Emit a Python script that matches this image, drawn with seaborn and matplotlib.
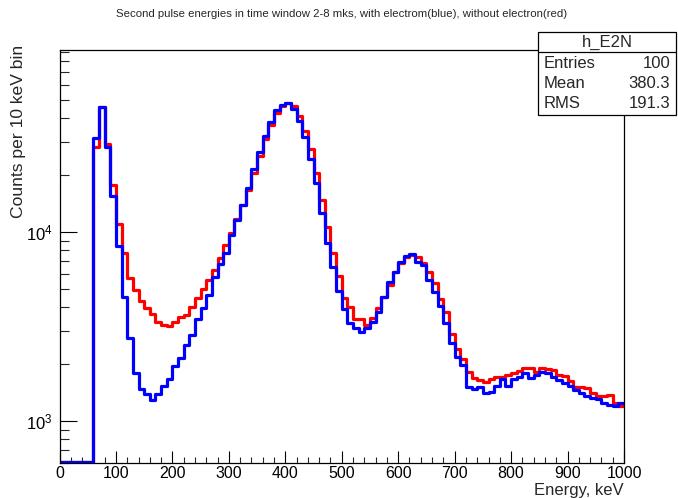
import numpy as np
import pandas as pd
import matplotlib
matplotlib.use("Agg")
import matplotlib.pyplot as plt
import seaborn as sns
from matplotlib.ticker import LogLocator, MultipleLocator, NullFormatter, LogFormatterSciNotation
from matplotlib.patches import Rectangle
from matplotlib.lines import Line2D

# ---------------- data ----------------
bin_width_kev = 10
energy_range_kev = (0, 1000)

with_electron = [
    0, 0, 0, 0, 0, 0, 31600, 46000, 28300, 15600,
    8400, 4520, 2740, 1790, 1470, 1390, 1300, 1390, 1530, 1680,
    1950, 2150, 2520, 2850, 3450, 3950, 4640, 5800, 6770, 7780,
    9640, 11600, 13900, 17200, 21500, 26600, 32200, 38100, 44200, 47000,
    48000, 44600, 38800, 32000, 24500, 18100, 12650, 8710, 6550, 4880,
    3900, 3290, 3110, 2970, 3100, 3330, 3790, 4520, 5460, 6170,
    6970, 7460, 7620, 6970, 6700, 5570, 4830, 4080, 3310, 2580,
    2190, 1990, 1510, 1480, 1510, 1410, 1420, 1530, 1660, 1530,
    1680, 1720, 1790, 1700, 1750, 1820, 1790, 1720, 1650, 1600,
    1540, 1460, 1400, 1350, 1320, 1310, 1250, 1210, 1200, 1250,
]

without_electron = [
    0, 0, 0, 0, 0, 0, 28300, 46000, 29200, 17700,
    11000, 7720, 5690, 4930, 4330, 3950, 3680, 3360, 3220, 3180,
    3360, 3560, 3640, 4030, 4460, 4980, 5570, 6300, 7260, 8540,
    9930, 11800, 13900, 16700, 20500, 25200, 31000, 36800, 42800, 46400,
    48300, 46400, 41100, 34400, 27400, 20600, 14800, 10670, 7750, 5830,
    4460, 4030, 3470, 3460, 3220, 3520, 3950, 4550, 5250, 6170,
    6830, 7360, 7580, 7350, 6880, 6170, 5380, 4400, 3790, 2890,
    2400, 2130, 1810, 1690, 1640, 1610, 1660, 1720, 1720, 1750,
    1790, 1850, 1900, 1920, 1820, 1900, 1890, 1870, 1750, 1730,
    1630, 1520, 1510, 1490, 1400, 1350, 1350, 1370, 1240, 1200,
]

title_text = "Second pulse energies in time window 2-8 mks, with electrom(blue), without electron(red)"
x_label = "Energy, keV"
y_label = "Counts per 10 keV bin"
hist_name = "h_E2N"
stats_labels = ["Entries", "Mean", "RMS"]
stats_values = ["100", "380.3", "191.3"]

# ---------------- style ----------------
sns.set_theme(style="white")
plt.rcParams["font.family"] = ["Liberation Sans", "DejaVu Sans"]
plt.rcParams["mathtext.fontset"] = "custom"
plt.rcParams["mathtext.rm"] = "Liberation Sans"
plt.rcParams["mathtext.it"] = "Liberation Sans:italic"
plt.rcParams["mathtext.bf"] = "Liberation Sans:bold"

W, H = 678, 498
YMIN, YMAX = 600, 92000

fig = plt.figure(figsize=(W / 100, H / 100), dpi=100)
fig.patch.set_facecolor("white")
ax = fig.add_axes([59.5 / W, 1 - 463 / H, (624 - 59.5) / W, (463 - 50) / H])
ax.set_facecolor("white")

n_bins = len(with_electron)
centers = energy_range_kev[0] + bin_width_kev * (np.arange(n_bins) + 0.5)
floor = YMIN * 1.012  # empty bins are drawn on the lower frame, as ROOT does
df = pd.DataFrame({
    "energy": centers,
    "with": np.maximum(np.array(with_electron, float), floor),
    "without": np.maximum(np.array(without_electron, float), floor),
})

for col, colr in [("without", "#ff0000"), ("with", "#0000ff")]:
    sns.histplot(data=df, x="energy", weights=col, binwidth=bin_width_kev,
                 binrange=energy_range_kev, element="step", fill=False,
                 color=colr, linewidth=2.3, ax=ax)

ax.set_yscale("log")
ax.set_xlim(*energy_range_kev)
ax.set_ylim(YMIN, YMAX)
ax.set_xlabel("")
ax.set_ylabel("")

ax.xaxis.set_major_locator(MultipleLocator(100))
ax.xaxis.set_minor_locator(MultipleLocator(20))
ax.yaxis.set_major_locator(LogLocator(base=10))
ax.yaxis.set_major_formatter(LogFormatterSciNotation())
ax.yaxis.set_minor_locator(LogLocator(base=10, subs=np.arange(2, 10)))
ax.yaxis.set_minor_formatter(NullFormatter())

ax.tick_params(axis="x", which="major", direction="in", length=9, width=0.8,
               bottom=True, top=False, labelsize=11.5, pad=2.5, colors="black")
ax.tick_params(axis="x", which="minor", direction="in", length=4.5, width=0.8,
               bottom=True, top=False)
ax.tick_params(axis="y", which="major", direction="in", length=12, width=0.8,
               left=True, right=False, labelsize=12, pad=5, colors="black")
ax.tick_params(axis="y", which="minor", direction="in", length=6.5, width=0.8,
               left=True, right=False)

for s in ax.spines.values():
    s.set_color("black")
    s.set_linewidth(0.9)
    s.set_visible(True)

# ---------------- texts ----------------
fig.text(342 / W, 1 - 14 / H, title_text, ha="center", va="center", fontsize=8.2)
fig.text(624 / W, 1 - 490 / H, x_label, ha="right", va="center", fontsize=12)
fig.text(19 / W, 1 - 45 / H, y_label, ha="center", va="top", rotation=90, fontsize=12.6)

# ---------------- stats box ----------------
bl, br, bt, bb, bdiv = 538, 676, 32, 115, 52
box = Rectangle((bl / W, 1 - bb / H), (br - bl) / W, (bb - bt) / H,
                transform=fig.transFigure, facecolor="white", edgecolor="black",
                linewidth=0.9, zorder=10)
fig.patches.append(box)
fig.lines.append(Line2D([bl / W, br / W], [1 - bdiv / H, 1 - bdiv / H],
                        transform=fig.transFigure, color="black", linewidth=0.9, zorder=11))
fig.text((bl + br) / 2 / W, 1 - 42.5 / H, hist_name, ha="center", va="center",
         fontsize=12, zorder=12)
row_y = [63, 84, 104]
for lab, val, yy in zip(stats_labels, stats_values, row_y):
    fig.text(544 / W, 1 - yy / H, lab, ha="left", va="center", fontsize=12, zorder=12)
    fig.text(670 / W, 1 - yy / H, val, ha="right", va="center", fontsize=12, zorder=12)

fig.savefig("out.png", dpi=100, facecolor="white")
